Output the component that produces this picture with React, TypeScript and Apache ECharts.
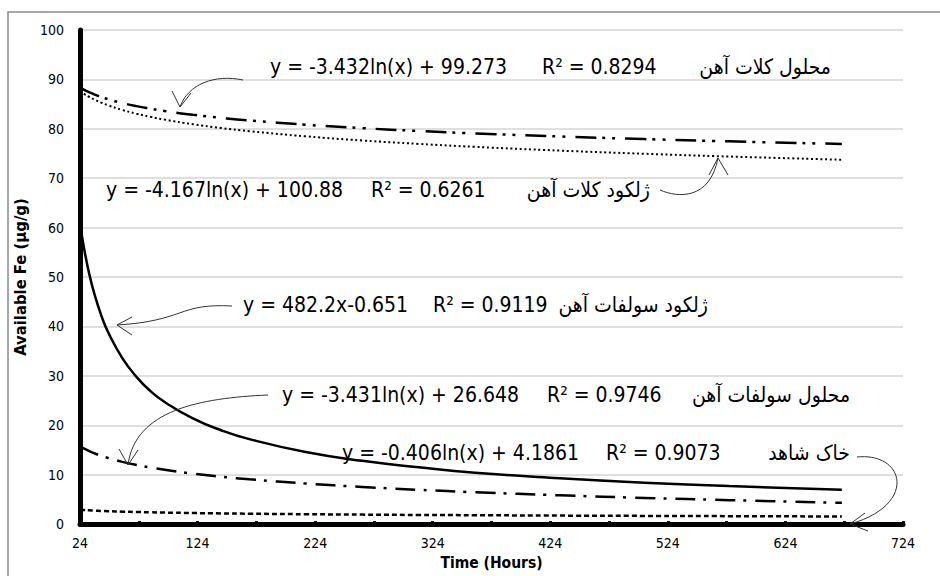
import React, { useEffect, useRef } from "react";
import * as echarts from "echarts";

// Time (hours) at which the trend curves are sampled
const hours = [24, 28, 32, 36, 42, 48, 60, 72, 84, 96, 120, 144, 168, 216, 264, 312, 360, 432, 504, 576, 672];

// محلول کلات آهن
const ironChelateSolution = [88.37, 87.84, 87.38, 86.97, 86.44, 85.99, 85.22, 84.59, 84.07, 83.61, 82.84, 82.22, 81.69, 80.83, 80.14, 79.56, 79.07, 78.45, 77.92, 77.46, 76.93];
// ژلکود کلات آهن
const ironChelateGel = [87.64, 86.99, 86.44, 85.95, 85.3, 84.75, 83.82, 83.06, 82.42, 81.86, 80.93, 80.17, 79.53, 78.48, 77.64, 76.95, 76.35, 75.59, 74.95, 74.39, 73.75];
// ژلکود سولفات آهن
const ironSulfateGel = [60.9, 55.1, 50.5, 46.8, 42.3, 38.8, 33.6, 29.8, 26.9, 24.7, 21.4, 19.0, 17.2, 14.6, 12.8, 11.5, 10.4, 9.28, 8.39, 7.69, 6.96];
// محلول سولفات آهن
const ironSulfateSolution = [15.74, 15.22, 14.76, 14.35, 13.82, 13.37, 12.6, 11.97, 11.45, 10.99, 10.22, 9.6, 9.07, 8.21, 7.52, 6.94, 6.45, 5.83, 5.3, 4.84, 4.31];
// خاک شاهد
const controlSoil = [2.9, 2.83, 2.78, 2.73, 2.67, 2.61, 2.52, 2.45, 2.39, 2.33, 2.24, 2.17, 2.11, 2.0, 1.92, 1.85, 1.8, 1.72, 1.66, 1.61, 1.54];

const xTickValues = [24, 74, 124, 174, 224, 274, 324, 374, 424, 474, 524, 574, 624, 674, 724];
const xLabelValues = [24, 124, 224, 324, 424, 524, 624, 724];

const seriesNames = ["محلول کلات آهن", "ژلکود کلات آهن", "ژلکود سولفات آهن", "محلول سولفات آهن", "خاک شاهد"];
const equations = [
  "y = -3.432ln(x) + 99.273",
  "y = -4.167ln(x) + 100.88",
  "y = 482.2x-0.651",
  "y = -3.431ln(x) + 26.648",
  "y = -0.406ln(x) + 4.1861",
];
const r2Labels = ["R² = 0.8294", "R² = 0.6261", "R² = 0.9119", "R² = 0.9746", "R² = 0.9073"];

// layout of annotation texts: [eqX, r2X, nameRightX, centerY]
const annLayout = [
  [270, 542, 831, 67],
  [106, 371, 650, 190],
  [243, 433, 708, 305],
  [282, 547, 850, 395],
  [342, 606, 850, 453],
];

const FONT = "'DejaVu Sans Condensed', 'DejaVu Sans', sans-serif";

export default function App() {
  const ref = useRef<HTMLDivElement>(null);
  useEffect(() => {
    if (!ref.current) return;
    const chart = echarts.init(ref.current, null, { renderer: "svg" });
    const mk = (arr: number[]) => hours.map((h, i) => [h, arr[i]]);
    const lineBase = { type: "line", showSymbol: false, smooth: true, silent: true, z: 3 };
    const graphics: any[] = [
      {
        type: "rect",
        shape: { x: 8, y: 12, width: 1000, height: 1000 },
        style: { fill: "none", stroke: "#8a8a8a", lineWidth: 1.5 },
        z: 0,
      },
    ];
    annLayout.forEach((l, i) => {
      const [ex, rx, nx, cy] = l;
      graphics.push({ type: "text", x: ex, y: cy, style: { text: equations[i], font: `21px ${FONT}`, fill: "#000", textAlign: "left", textVerticalAlign: "middle" }, z: 10 });
      graphics.push({ type: "text", x: rx, y: cy, style: { text: r2Labels[i], font: `21px ${FONT}`, fill: "#000", textAlign: "left", textVerticalAlign: "middle" }, z: 10 });
      graphics.push({ type: "text", x: nx, y: cy, style: { text: seriesNames[i], font: `21px ${FONT}`, fill: "#000", textAlign: "right", textVerticalAlign: "middle" }, z: 10 });
    });
    const arrowStyle = { stroke: "#333", lineWidth: 1, fill: "none" };
    const arrows = [
      { c: [243, 80, 215, 74, 188, 84, 180, 107], h: [[172, 91], [180, 107], [191, 93]] },
      { c: [660, 190, 678, 198, 710, 200, 718, 158], h: [[709, 175], [718, 158], [728, 175]] },
      { c: [232, 306, 178, 303, 185, 321, 117, 325], h: [[132, 317], [117, 325], [132, 335]] },
      { c: [268, 395, 200, 398, 135, 410, 128, 465], h: [[119, 449], [128, 465], [138, 450]] },
      { c: [857, 457, 905, 452, 918, 505, 850, 524], h: [[865, 513], [850, 524], [868, 531]] },
    ];
    arrows.forEach((a) => {
      const [x1, y1, cpx1, cpy1, cpx2, cpy2, x2, y2] = a.c;
      graphics.push({ type: "bezierCurve", shape: { x1, y1, cpx1, cpy1, cpx2, cpy2, x2, y2 }, style: arrowStyle, z: 10 });
      graphics.push({ type: "polyline", shape: { points: a.h }, style: arrowStyle, z: 10 });
    });

    chart.setOption({
      animation: false,
      backgroundColor: "#fff",
      grid: { left: 80, right: 37, top: 30, bottom: 43, containLabel: false },
      xAxis: {
        type: "value",
        min: 24,
        max: 724,
        name: "Time (Hours)",
        nameLocation: "middle",
        nameGap: 23,
        nameTextStyle: { fontFamily: FONT, fontWeight: "bold", fontSize: 15.5, color: "#000" },
        axisLine: { show: true, lineStyle: { color: "#000", width: 5 } },
        axisTick: { show: true, inside: true, length: 3, lineStyle: { color: "#000", width: 3 }, customValues: xTickValues },
        axisLabel: { customValues: xLabelValues, margin: 12, fontFamily: FONT, fontSize: 14, color: "#000" },
        splitLine: { show: false },
      },
      yAxis: {
        type: "value",
        min: 0,
        max: 100,
        interval: 10,
        name: "Available Fe (µg/g)",
        nameLocation: "middle",
        nameGap: 50,
        nameRotate: 90,
        nameTextStyle: { fontFamily: FONT, fontWeight: "bold", fontSize: 16.5, color: "#000" },
        axisLine: { show: true, lineStyle: { color: "#000", width: 5 } },
        axisTick: { show: true, inside: true, length: 3, lineStyle: { color: "#000", width: 3 } },
        axisLabel: { margin: 16, fontFamily: FONT, fontSize: 14, color: "#000" },
        splitLine: { show: true, lineStyle: { color: "#d4d4d4", width: 1.5 } },
      },
      series: [
        { ...lineBase, name: seriesNames[0], data: mk(ironChelateSolution), lineStyle: { color: "#000", width: 2.5, type: [21, 6, 3, 7, 3, 10], cap: "butt" } },
        { ...lineBase, name: seriesNames[1], data: mk(ironChelateGel), lineStyle: { color: "#000", width: 2, type: [2, 2.7], cap: "butt" } },
        { ...lineBase, name: seriesNames[2], data: mk(ironSulfateGel), lineStyle: { color: "#000", width: 2.5, type: "solid" } },
        { ...lineBase, name: seriesNames[3], data: mk(ironSulfateSolution), lineStyle: { color: "#000", width: 2.5, type: [20, 8, 3, 9], cap: "butt" } },
        { ...lineBase, name: seriesNames[4], data: mk(controlSoil), lineStyle: { color: "#000", width: 2.5, type: [5, 3], cap: "butt" } },
      ],
      graphic: { elements: graphics },
    });
    return () => chart.dispose();
  }, []);
  return <div ref={ref} style={{ position: "fixed", left: 0, top: 0, width: 940, height: 576, background: "#fff" }} />;
}
